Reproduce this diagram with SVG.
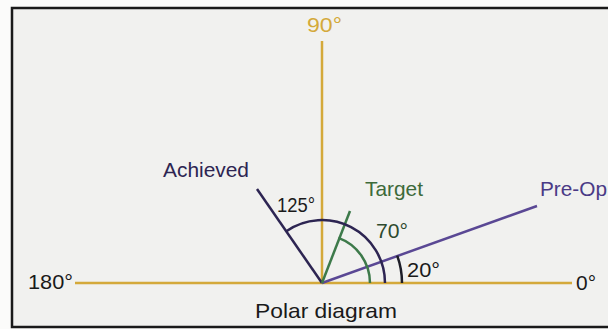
<svg xmlns="http://www.w3.org/2000/svg" width="608" height="329" viewBox="0 0 608 329">
<style>
text{font-family:"Liberation Sans",Arial,sans-serif;font-size:21px;}
.axis{stroke:#d4a93a;stroke-width:2.5;fill:none;}
.ach{stroke:#2d2552;stroke-width:2.5;fill:none;}
.tgt{stroke:#3d7a4a;stroke-width:2.5;fill:none;}
.pre{stroke:#5a4894;stroke-width:2.5;fill:none;}
.arc20{stroke:#1e1e28;stroke-width:2.5;fill:none;}
.dark{fill:#1a1a1a;}
</style>
<rect x="0" y="0" width="608" height="329" fill="#fbfbfa"/>
<rect x="12" y="8" width="600" height="319" fill="#f1f1ef" stroke="#1a1a1a" stroke-width="2.5"/>
<g id="connectors">
<line class="axis" x1="75" y1="283" x2="572" y2="283"/>
<line class="axis" x1="322" y1="41" x2="322" y2="283"/>
<line class="pre" x1="322" y1="283" x2="537" y2="206"/>
<line class="ach" x1="322" y1="283" x2="257" y2="189"/>
<line class="tgt" x1="322" y1="283" x2="350" y2="211"/>
<path class="ach" d="M385,283 A63,63 0 0 0 285.9,231.4"/>
<path class="tgt" d="M370,283 A48,48 0 0 0 338.4,237.9"/>
<path class="arc20" d="M402,283 A80,80 0 0 0 397.2,255.6"/>
</g>
<g id="axis-90"><text x="307" y="32" fill="#d4a93a" textLength="35" lengthAdjust="spacingAndGlyphs">90°</text></g>
<g id="axis-180"><text class="dark" x="28" y="289" textLength="45" lengthAdjust="spacingAndGlyphs">180°</text></g>
<g id="axis-0"><text class="dark" x="576" y="290" textLength="20" lengthAdjust="spacingAndGlyphs">0°</text></g>
<g id="achieved"><text x="163" y="177" fill="#2d2552" textLength="86" lengthAdjust="spacingAndGlyphs">Achieved</text></g>
<g id="target"><text x="365" y="196" fill="#3d6a3a" textLength="58" lengthAdjust="spacingAndGlyphs">Target</text></g>
<g id="preop"><text x="540" y="196" fill="#4a3a86" textLength="67" lengthAdjust="spacingAndGlyphs">Pre-Op</text></g>
<g id="angle-125"><text class="dark" x="277" y="212" fill="#1e1e28" textLength="38" lengthAdjust="spacingAndGlyphs">125°</text></g>
<g id="angle-70"><text x="376" y="238" fill="#2e4a2e" textLength="32" lengthAdjust="spacingAndGlyphs">70°</text></g>
<g id="angle-20"><text class="dark" x="407" y="277" textLength="33" lengthAdjust="spacingAndGlyphs">20°</text></g>
<g id="caption"><text class="dark" x="255" y="318" textLength="142" lengthAdjust="spacingAndGlyphs">Polar diagram</text></g>
</svg>
